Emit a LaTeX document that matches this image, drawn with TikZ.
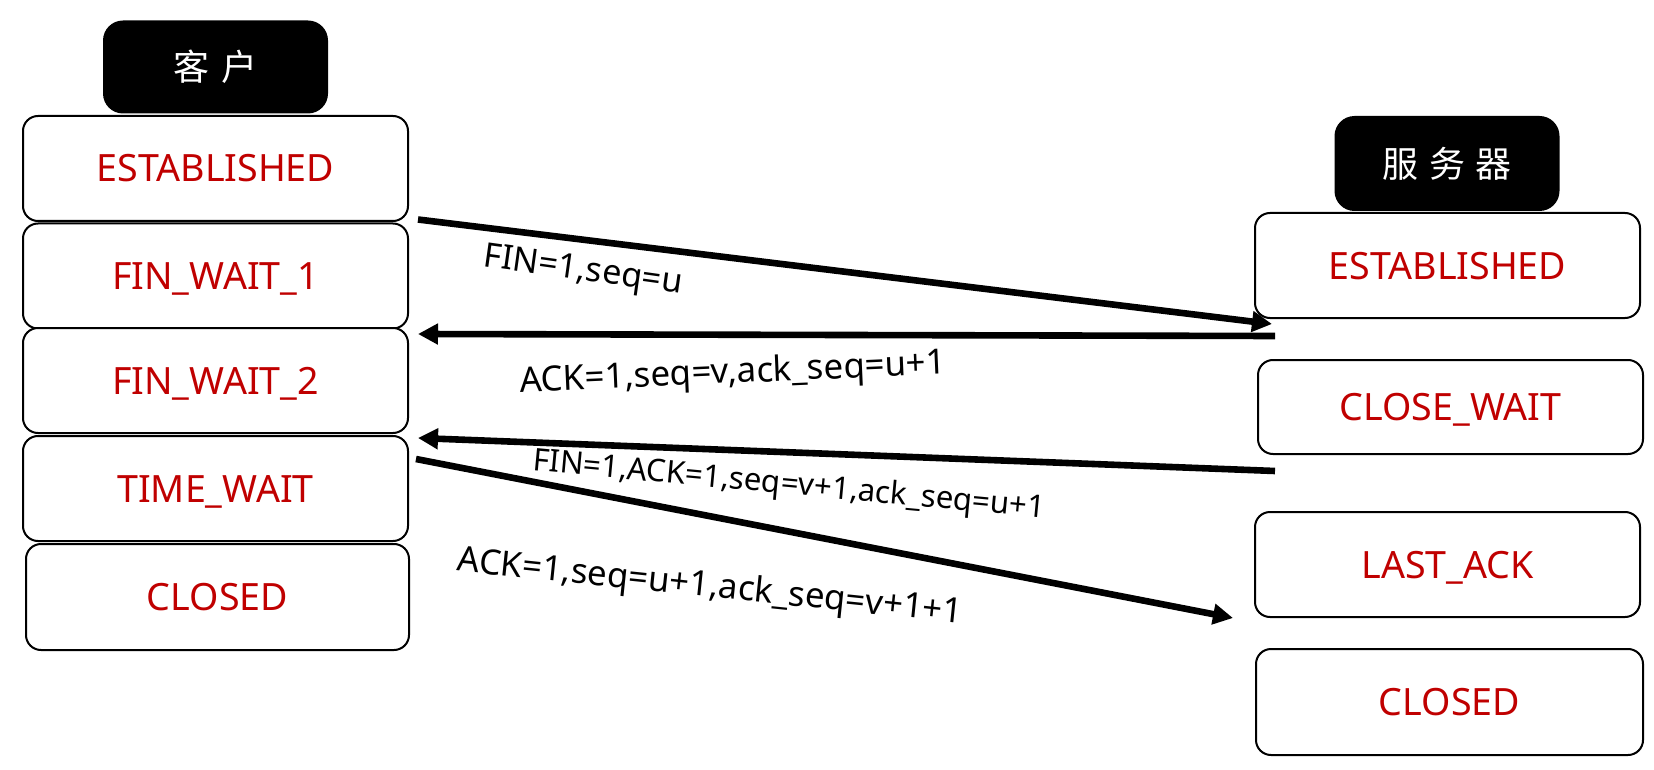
\documentclass[tikz,border=0pt]{standalone}
\usepackage{fontspec}
\setmainfont{Noto Sans}
\newfontfamily\cjk{Noto Sans CJK SC}
\usetikzlibrary{arrows.meta}
\definecolor{statered}{RGB}{192,0,0}
\tikzset{
  headbox/.style={fill=black, rounded corners=10pt, text=white, inner sep=0pt,
    minimum width=112.5pt, minimum height=46.5pt, font=\cjk\fontsize{18}{20}\selectfont},
  statebox/.style={draw, line width=1pt, rounded corners=7.5pt, fill=white, text=statered,
    inner sep=0pt, minimum width=192.5pt, minimum height=52.5pt,
    text height=13.5pt, text depth=0pt, font=\fontsize{18.8}{22}\selectfont},
  msg/.style={line width=3.3pt, -{Triangle[length=10pt,width=10pt]}},
  msglabel/.style={inner sep=0pt, font=\fontsize{17.4}{20}\selectfont}
}
\begin{document}
\begin{tikzpicture}[x=0.5pt,y=-0.5pt]
\useasboundingbox (0,0) rectangle (1654,770);
% client
\node[headbox] (client) at (215.5,67) {客\hspace{0.35em}户};
\node[statebox] (estc) at (215.5,168.5) {ESTABLISHED};
\node[statebox] (fw1) at (215.5,276) {FIN\_WAIT\_1};
\node[statebox] (fw2) at (215.5,380.5) {FIN\_WAIT\_2};
\node[statebox] (tw) at (215.5,488.5) {TIME\_WAIT};
\node[statebox, minimum width=191.5pt, minimum height=53pt] (closedc) at (217.5,597) {CLOSED};
% server
\node[headbox, minimum height=47.5pt] (server) at (1447,163.5) {服\hspace{0.3em}务\hspace{0.3em}器};
\node[statebox] (ests) at (1447.5,265.5) {ESTABLISHED};
\node[statebox, minimum height=47pt] (cw) at (1450.5,407) {CLOSE\_WAIT};
\node[statebox] (la) at (1447.5,564.5) {LAST\_ACK};
\node[statebox, minimum width=193.5pt, minimum height=53pt] (closeds) at (1449.5,702) {CLOSED};
% message ends
\coordinate (m1a) at ([shift={(9,-3)}]fw1.north east);
\coordinate (m1b) at ([shift={(18,5)}]ests.south west);
\coordinate (m2a) at ([shift={(21,17)}]ests.south west);
\coordinate (m2b) at ([shift={(9,7)}]fw2.north east);
\coordinate (m3a) at ([shift={(18,16)}]cw.south west);
\coordinate (m3b) at ([shift={(9,3)}]tw.north east);
\coordinate (m4a) at ([shift={(7,24)}]tw.north east);
\coordinate (m4b) at ([shift={(-21,0)}]la.south west);
\draw[msg] (m1a) -- (m1b);
\draw[msg] (m2a) -- (m2b);
\draw[msg] (m3a) -- (m3b);
\draw[msg] (m4a) -- (m4b);
% labels
\node[msglabel, rotate=-8, font=\fontsize{17}{20}\selectfont] (l1) at (583,272) {FIN=1,seq=u};
\node[msglabel, rotate=2.5] (l2) at (733,374) {ACK=1,seq=v,ack\_seq=u+1};
\node[msglabel, rotate=-5.3, font=\fontsize{15.6}{18}\selectfont] (l3) at (789,486) {FIN=1,ACK=1,seq=v+1,ack\_seq=u+1};
\node[msglabel, rotate=-5.9] (l4) at (710,588) {ACK=1,seq=u+1,ack\_seq=v+1+1};
\end{tikzpicture}
\end{document}
